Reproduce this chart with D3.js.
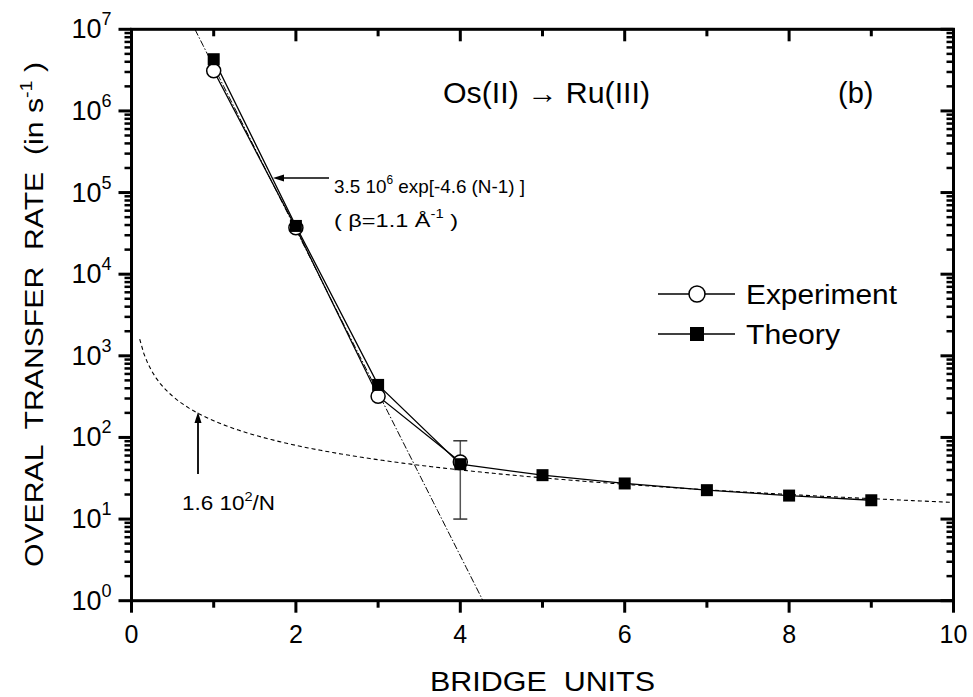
<!DOCTYPE html>
<html>
<head>
<meta charset="utf-8">
<script src="https://cdn.jsdelivr.net/npm/d3@7"></script>
<style>
  html, body { margin: 0; padding: 0; background: #fff; }
  svg text { font-family: "Liberation Sans", Arial, Helvetica, sans-serif; fill: #000; }
</style>
</head>
<body>
<svg id="chart" width="973" height="697"></svg>
<script>
// Bridge units (N) and measured / computed overall transfer rates (s^-1)
const expN = [1, 2, 3, 4];
const expRate = [3.1e6, 3.7e4, 320, 50];
const expErrLow = [null, null, null, 10];
const expErrHigh = [null, null, null, 91];

const theoryN = [1, 2, 3, 4, 5, 6, 7, 8, 9];
const theoryRate = [4.3e6, 3.9e4, 440, 47, 34.5, 27.3, 22.6, 19.4, 17];

// Fit curves, as written in the annotations
const expFit = { A: 3.5e6, k: 4.6 };      // 3.5 10^6 exp[-4.6 (N-1)]
const invFit = { C: 1.6e2 };              // 1.6 10^2 / N

// Axis ticks
const xMajor = [0, 2, 4, 6, 8, 10];
const xMinor = [1, 3, 5, 7, 9];
const yExponents = [0, 1, 2, 3, 4, 5, 6, 7];

const svg = d3.select("#chart");
const L = 131.5, R = 953.5, T = 29.3, B = 600.7;

const x = d3.scaleLinear().domain([0, 10]).range([L, R]);
const y = d3.scaleLog().domain([1, 1e7]).range([B, T]);

const yMajor = yExponents.map(e => Math.pow(10, e));
const yMinor = [];
yExponents.slice(0, -1).forEach(e => {
  for (let m = 2; m <= 9; m++) yMinor.push(m * Math.pow(10, e));
});

// ---- plot content ----
const plot = svg.append("g");

// exponential fit (dash-dot), from where it enters at the top to where it leaves at the bottom
const [yBot, yTop] = y.domain();
const nStart = 1 + Math.log(expFit.A / yTop) / expFit.k;
const nEnd = 1 + Math.log(expFit.A / yBot) / expFit.k;
const nExp = d3.range(nStart, nEnd, 0.05).concat([nEnd]);
plot.append("path")
  .datum(nExp.map(n => [n, expFit.A * Math.exp(-expFit.k * (n - 1))]))
  .attr("d", d3.line().x(d => x(d[0])).y(d => y(d[1])))
  .attr("fill", "none").attr("stroke", "#000").attr("stroke-width", 1)
  .attr("stroke-dasharray", "7,2,1.5,2");

// 1/N fit (dashed)
const nInv = d3.range(0.1, 10.001, 0.05);
plot.append("path")
  .datum(nInv.map(n => [n, invFit.C / n]))
  .attr("d", d3.line().x(d => x(d[0])).y(d => y(d[1])))
  .attr("fill", "none").attr("stroke", "#000").attr("stroke-width", 1.1)
  .attr("stroke-dasharray", "4,3");

const lineGen = d3.line().x(d => x(d[0])).y(d => y(d[1]));
const expPts = expN.map((n, i) => [n, expRate[i]]);
const thPts = theoryN.map((n, i) => [n, theoryRate[i]]);

plot.append("path").datum(expPts).attr("d", lineGen)
  .attr("fill", "none").attr("stroke", "#000").attr("stroke-width", 1.3);
plot.append("path").datum(thPts).attr("d", lineGen)
  .attr("fill", "none").attr("stroke", "#000").attr("stroke-width", 1.3);

// error bars
expN.forEach((n, i) => {
  if (expErrLow[i] == null) return;
  const cx = x(n), y0 = y(expErrLow[i]), y1 = y(expErrHigh[i]);
  plot.append("line").attr("x1", cx).attr("x2", cx).attr("y1", y1).attr("y2", y0)
    .attr("stroke", "#555").attr("stroke-width", 1.5);
  [y0, y1].forEach(yy => plot.append("line")
    .attr("x1", cx - 7).attr("x2", cx + 7).attr("y1", yy).attr("y2", yy)
    .attr("stroke", "#333").attr("stroke-width", 1.5));
});

// markers
plot.append("g").selectAll("circle").data(expPts).join("circle")
  .attr("cx", d => x(d[0])).attr("cy", d => y(d[1])).attr("r", 7)
  .attr("fill", "#fff").attr("stroke", "#000").attr("stroke-width", 1.5);
const sq = 12;
plot.append("g").selectAll("rect").data(thPts).join("rect")
  .attr("x", d => x(d[0]) - sq / 2).attr("y", d => y(d[1]) - sq / 2)
  .attr("width", sq).attr("height", sq).attr("fill", "#000");

// ---- frame ----
svg.append("rect").attr("x", L).attr("y", T).attr("width", R - L).attr("height", B - T)
  .attr("fill", "none").attr("stroke", "#000").attr("stroke-width", 3);

// tick labels
svg.append("g").selectAll("text").data(xMajor).join("text")
  .attr("x", d => x(d)).attr("y", B + 42)
  .attr("text-anchor", "middle").attr("font-size", 25)
  .text(d => d);

const yLab = svg.append("g").selectAll("text").data(yExponents).join("text")
  .attr("x", L - 20).attr("y", d => y(Math.pow(10, d)) + 9)
  .attr("text-anchor", "end").attr("font-size", 27);
yLab.append("tspan").text("10");
yLab.append("tspan").attr("dy", -13).attr("font-size", 18).text(d => d);

// axis titles
svg.append("text").attr("x", 430).attr("y", 691)
  .attr("font-size", 27).attr("textLength", 225).attr("lengthAdjust", "spacingAndGlyphs")
  .attr("style", "white-space:pre").text("BRIDGE  UNITS");

const yt = svg.append("text")
  .attr("transform", `translate(43,567) rotate(-90)`)
  .attr("font-size", 26).attr("textLength", 505).attr("lengthAdjust", "spacingAndGlyphs")
  .attr("style", "white-space:pre");
yt.append("tspan").text("OVERAL  TRANSFER  RATE  (in s");
yt.append("tspan").attr("dy", -11).attr("font-size", 17).text("-1");
yt.append("tspan").attr("dy", 11).text(" )");

// ---- annotations ----
function arrow(x1, y1, x2, y2, w) {
  const ang = Math.atan2(y2 - y1, x2 - x1), hl = 11, hw = 3.5;
  const bx = x2 - hl * Math.cos(ang), by = y2 - hl * Math.sin(ang);
  svg.append("path").attr("d", `M${x1},${y1}L${bx},${by}`)
    .attr("stroke", "#000").attr("stroke-width", w).attr("fill", "none");
  svg.append("path")
    .attr("d", `M${x2},${y2}L${bx - hw * Math.sin(ang)},${by + hw * Math.cos(ang)}` +
               `L${bx + hw * Math.sin(ang)},${by - hw * Math.cos(ang)}Z`)
    .attr("fill", "#000");
}
arrow(329, 178, 273, 178, 1.6);
const a1 = svg.append("text").attr("x", 334).attr("y", 193).attr("font-size", 19)
  .attr("textLength", 191).attr("lengthAdjust", "spacingAndGlyphs")
  .attr("style", "white-space:pre");
a1.append("tspan").text("3.5 10");
a1.append("tspan").attr("dy", -9).attr("font-size", 12).text("6");
a1.append("tspan").attr("dy", 9).text(" exp[-4.6 (N-1) ]");
const a2 = svg.append("text").attr("x", 334).attr("y", 227).attr("font-size", 19)
  .attr("textLength", 124).attr("lengthAdjust", "spacingAndGlyphs")
  .attr("style", "white-space:pre");
a2.append("tspan").text("( β=1.1 Å");
a2.append("tspan").attr("dy", -9).attr("font-size", 12).text("-1");
a2.append("tspan").attr("dy", 9).text(" )");

arrow(198, 474, 198, 412, 1.8);
const a3 = svg.append("text").attr("x", 182).attr("y", 510).attr("font-size", 20)
  .attr("textLength", 93).attr("lengthAdjust", "spacingAndGlyphs");
a3.append("tspan").text("1.6 10");
a3.append("tspan").attr("dy", -9).attr("font-size", 13).text("2");
a3.append("tspan").attr("dy", 9).text("/N");

// title and panel label
svg.append("text").attr("x", 443).attr("y", 103).attr("font-size", 29)
  .attr("textLength", 207).attr("lengthAdjust", "spacingAndGlyphs")
  .text("Os(II) \u2192 Ru(III)");
svg.append("text").attr("x", 838).attr("y", 103).attr("font-size", 29)
  .text("(b)");

// legend
const legend = svg.append("g");
const legendItems = [
  { label: "Experiment", y: 294, kind: "circle", len: 151 },
  { label: "Theory", y: 334, kind: "square", len: 94 }
];
legendItems.forEach(it => {
  legend.append("path").attr("d", `M658,${it.y}H735`)
    .attr("stroke", "#000").attr("stroke-width", 1.3);
  if (it.kind === "circle") {
    legend.append("circle").attr("cx", 697).attr("cy", it.y).attr("r", 8)
      .attr("fill", "#fff").attr("stroke", "#000").attr("stroke-width", 1.5);
  } else {
    legend.append("rect").attr("x", 697 - 7).attr("y", it.y - 7)
      .attr("width", 14).attr("height", 14).attr("fill", "#000");
  }
  legend.append("text").attr("x", 746).attr("y", it.y + 10).attr("font-size", 27)
    .attr("textLength", it.len).attr("lengthAdjust", "spacingAndGlyphs").text(it.label);
});

// ---- ticks as thin filled bars: outward on bottom/left, inward on top/right ----
function tickRects(vals, pos, len, horizontal, w) {
  return vals.map(v => {
    const c = horizontal ? x(v) : y(v);
    const a = Math.min(pos, pos + len), size = Math.abs(len);
    return horizontal
      ? { x: c - w / 2, y: a, width: w, height: size }
      : { x: a, y: c - w / 2, width: size, height: w };
  });
}
const tickBars = [].concat(
  tickRects(xMajor, B, 12, true, 3), tickRects(xMinor, B, 7, true, 3),
  tickRects(xMajor, T, 12, true, 3), tickRects(xMinor, T, 7, true, 3),
  tickRects(yMajor, L, -13, false, 3), tickRects(yMinor, L, -7, false, 2.5),
  tickRects(yMajor, R, -13, false, 3), tickRects(yMinor, R, -7, false, 2.5)
);
svg.append("g").attr("class", "axis-ticks").selectAll("rect").data(tickBars).join("rect")
  .attr("x", d => d.x).attr("y", d => d.y)
  .attr("width", d => d.width).attr("height", d => d.height)
  .attr("fill", "#000");
</script>
</body>
</html>
